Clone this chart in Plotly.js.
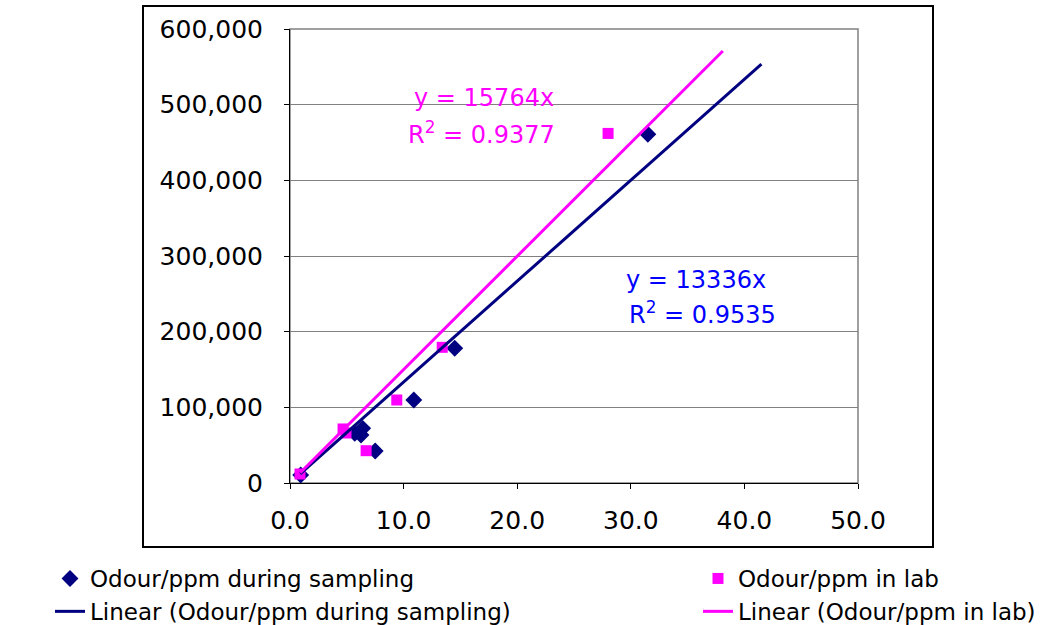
<!DOCTYPE html>
<html>
<head>
<meta charset="utf-8">
<script src="https://cdn.plot.ly/plotly-3.0.1.min.js"></script>
<style>html,body{margin:0;padding:0;background:#fff;}#chart{width:1047px;height:625px;}</style>
</head>
<body>
<div id="chart"></div>
<script>
// Odour/ppm during sampling (diamonds)
var samplingX = [0.94, 5.7, 6.4, 6.25, 7.5, 10.9, 14.5, 31.5];
var samplingY = [10600, 65600, 72200, 63400, 42300, 109700, 178000, 461000];
// Odour/ppm in lab (squares)
var labX = [0.88, 4.67, 4.93, 6.7, 9.4, 13.4, 28.0];
var labY = [11900, 71400, 66100, 42700, 109700, 179300, 462000];
// Trendlines as drawn
var samplingTrendX = [0.9, 41.5];
var samplingTrendY = [12000, 553500];
var labTrendX = [0.9, 38.1];
var labTrendY = [13500, 571000];

var samplingName = "Odour/ppm during sampling";
var labName = "Odour/ppm in lab";
var samplingTrendName = "Linear (Odour/ppm during sampling)";
var labTrendName = "Linear (Odour/ppm in lab)";
var samplingEq = ["y = 13336x", "R<sup>2</sup> = 0.9535"];
var labEq = ["y = 15764x", "R<sup>2</sup> = 0.9377"];

var navy = "#000080", magenta = "#FF00FF", blue = "#0000FF";
var FONT = "DejaVu Sans, Arial, sans-serif";

var traces = [
  {x: samplingX, y: samplingY, name: samplingName, type: "scatter", mode: "markers",
   legend: "legend", marker: {symbol: "diamond", size: 13, color: navy}},
  {x: labX, y: labY, name: labName, type: "scatter", mode: "markers",
   legend: "legend2", marker: {symbol: "square", size: 11, color: magenta}},
  {x: samplingTrendX, y: samplingTrendY, name: samplingTrendName, type: "scatter", mode: "lines",
   legend: "legend", line: {color: navy, width: 3}},
  {x: labTrendX, y: labTrendY, name: labTrendName, type: "scatter", mode: "lines",
   legend: "legend2", line: {color: magenta, width: 3}}
];

function px2paperX(p){ return (p - 290) / 568; }
function px2paperY(p){ return (483 - p) / 454; }

var legendBase = {
  orientation: "v",
  xanchor: "left", yanchor: "top",
  y: px2paperY(557),
  font: {family: FONT, size: 23, color: "#000"},
  bgcolor: "rgba(0,0,0,0)", borderwidth: 0,
  traceorder: "normal", tracegroupgap: 0
};

function eqAnn(px, py, text, color) {
  return {xref: "paper", yref: "paper", x: px2paperX(px), y: px2paperY(py), text: text,
          xanchor: "center", yanchor: "middle",
          showarrow: false, font: {family: FONT, size: 24, color: color}};
}

var layout = {
  width: 1047, height: 625,
  margin: {l: 290, r: 189, t: 29, b: 142, pad: 0, autoexpand: false},
  paper_bgcolor: "#fff", plot_bgcolor: "#fff",
  font: {family: FONT, size: 23, color: "#000"},
  showlegend: true,
  hovermode: false,
  xaxis: {
    range: [0, 50], dtick: 10, tick0: 0, tickformat: ".1f",
    showgrid: false, zeroline: false,
    showline: true, linecolor: "#000", linewidth: 1,
    ticks: "outside", ticklen: 5, tickcolor: "#000",
    tickfont: {family: FONT, size: 25, color: "#000"},
    ticklabelstandoff: 10
  },
  yaxis: {
    range: [0, 600000], dtick: 100000, tick0: 0, tickformat: ",d",
    showgrid: true, gridcolor: "#808080", gridwidth: 1, zeroline: false,
    showline: true, linecolor: "#000", linewidth: 1,
    ticks: "outside", ticklen: 5, tickcolor: "#000",
    tickfont: {family: FONT, size: 25, color: "#000"},
    ticklabelstandoff: 16
  },
  legend: Object.assign({}, legendBase, {x: px2paperX(50)}),
  legend2: Object.assign({}, legendBase, {x: px2paperX(698)}),
  shapes: [
    {type: "rect", xref: "paper", yref: "paper", layer: "below",
     x0: 0, x1: 1, y0: 0, y1: 1, line: {color: "#808080", width: 1.5}},
    {type: "rect", xref: "paper", yref: "paper", layer: "above",
     x0: px2paperX(143), x1: px2paperX(933), y0: px2paperY(547), y1: px2paperY(6),
     line: {color: "#000", width: 2}}
  ],
  annotations: [
    eqAnn(484, 98, labEq[0], magenta),
    eqAnn(481, 133, labEq[1], magenta),
    eqAnn(696, 280, samplingEq[0], blue),
    eqAnn(702, 313, samplingEq[1], blue)
  ]
};

Plotly.newPlot("chart", traces, layout, {displayModeBar: false, staticPlot: true});
</script>
</body>
</html>
